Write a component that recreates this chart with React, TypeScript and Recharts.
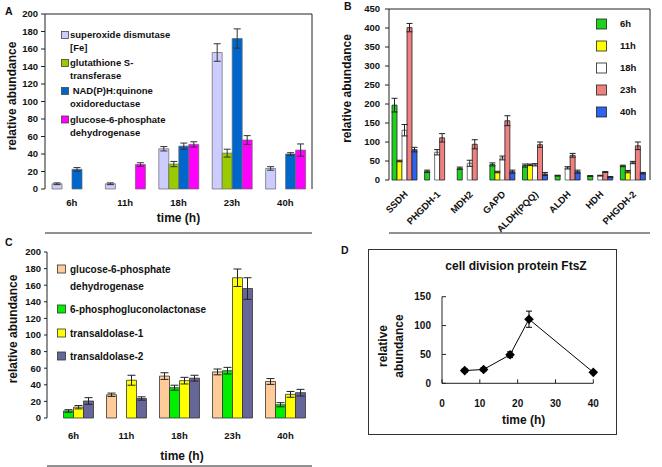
import React from 'react';
import { BarChart, Bar, LineChart, Line, XAxis, YAxis, ErrorBar, Legend } from 'recharts';

const FONT = '"Liberation Sans", Arial, Helvetica, sans-serif';
const TXT = '#111';
const AX = '#222';

// ---- panel A: antioxidant enzymes over time
const timesA = ['6h', '11h', '18h', '23h', '40h'];
const namesA = [
  'superoxide dismutase\n[Fe]',
  'glutathione S-\ntransferase',
  ' NAD(P)H:quinone\noxidoreductase',
  'glucose-6-phosphate\ndehydrogenase',
];
const sodA = [6, 6, 46, 156, 23.5];
const sodErrA = [1, 1, 2.5, 10, 2];
const gstA = [null, null, 28.5, 41, null];
const gstErrA = [null, null, 3, 4.5, null];
const nqoA = [22.5, null, 49, 172, 40];
const nqoErrA = [2, null, 3.5, 11, 1.5];
const g6pdA = [null, 28, 51, 56, 44.5];
const g6pdErrA = [null, 2, 3, 5, 7];
const colorsA = ['#ccccff', '#99cc00', '#0066cc', '#ff00ff'];

// ---- panel B: dehydrogenases per time point
const enzymesB = ['SSDH', 'PHGDH-1', 'MDH2', 'GAPD', 'ALDH(PQQ)', 'ALDH', 'HDH', 'PHGDH-2'];
const hoursB = ['6h', '11h', '18h', '23h', '40h'];
const b6h = [197, 23, 31, 41, 38, 11.5, 10.5, 37];
const b6hErr = [18, 3, 3, 4, 4, 1, 1, 2];
const b11h = [50, null, null, 21, 40, null, null, 22];
const b11hErr = [2, null, null, 2, 2, null, null, 3];
const b18h = [131, 73, 44, 58, 40, 32, 11.5, 46];
const b18hErr = [15, 7, 8, 5, 3, 3, 1, 3];
const b23h = [401, 111, 94, 156, 93, 65, 21, 90];
const b23hErr = [11, 11, 12, 13, 7, 5, 1, 10];
const b40h = [80, null, null, 22, 16, 22, 8, 18];
const b40hErr = [6, null, null, 4, 4, 4, 1, 2];
const colorsB = ['#1ed21e', '#ffff00', '#ffffff', '#f08080', '#2f62ee'];

// ---- panel C: pentose phosphate pathway
const timesC = ['6h', '11h', '18h', '23h', '40h'];
const namesC = [
  'glucose-6-phosphate\ndehydrogenase',
  '6-phosphogluconolactonase',
  'transaldolase-1',
  'transaldolase-2',
];
const g6pdC = [null, 28, 50.5, 55.5, 44];
const g6pdErrC = [null, 2, 4, 3.5, 3.5];
const pglC = [8.5, null, 36.5, 57, 16];
const pglErrC = [1.5, null, 3, 4, 2.5];
const tal1C = [13, 45.5, 45, 169, 28.5];
const tal1ErrC = [2, 6, 4, 10.5, 3.5];
const tal2C = [20.5, 23.5, 48, 156, 30.5];
const tal2ErrC = [4, 2, 3.5, 13, 4];
const colorsC = ['#ffcc99', '#00ee00', '#ffff00', '#666699'];

// ---- panel D: FtsZ
const hoursD = [6, 11, 18, 23, 40];
const ftsZ = [22, 24, 49.5, 111, 19];
const ftsZErr = [3, 3, 5, 14, 2];

const dataA = timesA.map((time, i) => ({
  time,
  s0: sodA[i], e0: sodErrA[i],
  s1: gstA[i], e1: gstErrA[i],
  s2: nqoA[i], e2: nqoErrA[i],
  s3: g6pdA[i], e3: g6pdErrA[i],
}));

const seriesB = [b6h, b11h, b18h, b23h, b40h];
const errB = [b6hErr, b11hErr, b18hErr, b23hErr, b40hErr];
const dataB = enzymesB.map((name, i) => {
  const row: any = { name };
  seriesB.forEach((s, k) => {
    row['s' + k] = s[i];
    row['e' + k] = errB[k][i];
  });
  return row;
});

const dataC = timesC.map((time, i) => ({
  time,
  s0: g6pdC[i], e0: g6pdErrC[i],
  s1: pglC[i], e1: pglErrC[i],
  s2: tal1C[i], e2: tal1ErrC[i],
  s3: tal2C[i], e3: tal2ErrC[i],
}));

const dataD = hoursD.map((t, i) => ({ t, v: ftsZ[i], e: ftsZErr[i] }));

const tickFont = { fontSize: 9.5, fontWeight: 700, fill: TXT };
const titleFont = { fontSize: 12, fontWeight: 700, fill: TXT };

const range = (n: number, step = 1) => Array.from({ length: n }, (_, i) => i * step);

const LegendA = () => {
  const rows = [35, 63, 91, 119.5];
  return (
    <svg width={130} height={140} style={{ overflow: 'visible', fontFamily: FONT }}>
      {namesA.map((n, i) => (
        <g key={n}>
          <rect x={0.5} y={rows[i] - 3.5} width={7} height={7} fill={colorsA[i]} stroke="#444" strokeWidth={0.8} />
          {n.split('\n').map((line, j) => (
            <text key={j} x={9} y={rows[i] + j * 13} dy="0.35em" fontSize={9.5} fontWeight={700} fill={TXT} style={{ whiteSpace: 'pre' }}>
              {line}
            </text>
          ))}
        </g>
      ))}
    </svg>
  );
};

const LegendB = () => {
  const rows = [24, 46, 68, 90, 112];
  return (
    <svg width={60} height={125} style={{ overflow: 'visible', fontFamily: FONT }}>
      {hoursB.map((h, i) => (
        <g key={h}>
          <rect x={0.5} y={rows[i] - 5} width={10} height={10} fill={colorsB[i]} stroke="#222" strokeWidth={0.8} />
          <text x={24} y={rows[i]} dy="0.35em" fontSize={9.5} fontWeight={700} fill={TXT}>{h}</text>
        </g>
      ))}
    </svg>
  );
};

const LegendC = () => {
  const rows = [35, 75, 99, 122];
  return (
    <svg width={170} height={130} style={{ overflow: 'visible', fontFamily: FONT }}>
      {namesC.map((n, i) => (
        <g key={n}>
          <rect x={0.5} y={rows[i] - 4} width={8} height={8} fill={colorsC[i]} stroke="#333" strokeWidth={0.8} />
          {n.split('\n').map((line, j) => (
            <text key={j} x={13} y={rows[i] + j * 17} dy="0.35em" fontSize={10} fontWeight={700} fill={TXT}>
              {line}
            </text>
          ))}
        </g>
      ))}
    </svg>
  );
};

const SlantTick = (props: any) => {
  const { x, y, payload } = props;
  const ax = x + 3;
  const ay = y + 15;
  return (
    <text x={ax} y={ay} transform={`rotate(-45 ${ax} ${ay})`} textAnchor="end" fontSize={9.5} fontWeight={700} fill={TXT}>
      {payload.value}
    </text>
  );
};

const Diamond = (props: any) => {
  const { cx, cy, index } = props;
  if (cx == null || cy == null) return <g key={index} />;
  const r = 4.8;
  return <polygon key={index} points={`${cx},${cy - r} ${cx + r},${cy} ${cx},${cy + r} ${cx - r},${cy}`} fill="#000" />;
};

const DYLabel = (p: any) => {
  const vb = p.viewBox;
  const cx = vb.x + 15;
  const cy = vb.y + vb.height / 2 + 6;
  return (
    <text x={cx} y={cy} transform={`rotate(-90 ${cx} ${cy})`} textAnchor="middle" fontSize={12} fontWeight={700} fill={TXT}>
      <tspan x={cx} dy="0.35em">relative</tspan>
      <tspan x={cx} dy={16}>abundance</tspan>
    </text>
  );
};

export default function App() {
  return (
    <div style={{ position: 'absolute', left: 0, top: 0, width: 662, height: 467, background: '#fff', fontFamily: FONT, overflow: 'hidden' }}>
      <svg width={662} height={467} style={{ position: 'absolute', left: 0, top: 0 }}>
        <g fontSize={10.5} fontWeight={700} fill={TXT}>
          <text x={5} y={15}>A</text>
          <text x={344} y={10}>B</text>
          <text x={5} y={246}>C</text>
          <text x={341} y={254}>D</text>
        </g>
        <rect x={368.5} y={249.5} width={248} height={185} fill="none" stroke="#333" strokeWidth={1} />
        <text x={516} y={269.5} textAnchor="middle" {...titleFont}>cell division protein FtsZ</text>
      </svg>

      {/* A */}
      <div style={{ position: 'absolute', left: 0, top: 0 }}>
        <BarChart width={331} height={234} data={dataA} margin={{ top: 13, right: 18, left: 0, bottom: 0 }} barCategoryGap={7} barGap={0}>
          <XAxis xAxisId="top" orientation="top" dataKey="time" height={1} tick={false} tickLine={false} stroke={AX} />
          <YAxis yAxisId="right" orientation="right" width={1} domain={[0, 200]} tick={false} tickLine={false} stroke={AX} />
          <XAxis xAxisId="edge" type="number" domain={[0, 5]} ticks={[1, 2, 3, 4]} allowDataOverflow height={1} tick={false} tickSize={-4} stroke={AX} />
          <XAxis xAxisId="cat" dataKey="time" height={44} axisLine={false} tickLine={false} tickSize={0} tickMargin={10} tick={tickFont}
            label={{ value: 'time (h)', position: 'center', dy: 7, ...titleFont }} />
          <YAxis yAxisId="left" width={45} domain={[0, 200]} ticks={range(11, 20)} tickSize={4} tickMargin={3} tick={tickFont} stroke={AX}
            label={{ value: 'relative abundance', angle: -90, position: 'center', dx: -10.5, dy: -5.5, ...titleFont }} />
          {colorsA.map((c, k) => (
            <Bar key={k} xAxisId="cat" yAxisId="left" dataKey={'s' + k} fill={c} stroke="#666" strokeWidth={0.7} isAnimationActive={false}>
              <ErrorBar dataKey={'e' + k} width={3.5} stroke="#333" strokeWidth={1} />
            </Bar>
          ))}
          <Legend layout="vertical" align="center" verticalAlign="middle" content={() => <LegendA />}
            wrapperStyle={{ left: 61, top: 0, width: 130, height: 140 }} />
        </BarChart>
      </div>

      {/* B */}
      <div style={{ position: 'absolute', left: 331, top: 0 }}>
        <BarChart width={331} height={250} data={dataB} margin={{ top: 8, right: 11, left: 0, bottom: 16 }} barCategoryGap={3} barGap={0}>
          <XAxis xAxisId="top" orientation="top" dataKey="name" height={1} tick={false} tickLine={false} stroke={AX} />
          <YAxis yAxisId="right" orientation="right" width={1} domain={[0, 450]} tick={false} tickLine={false} stroke={AX} />
          <XAxis xAxisId="edge" type="number" domain={[0, 8]} ticks={[1, 2, 3, 4, 5, 6, 7]} allowDataOverflow height={1} tick={false} tickSize={-4} stroke={AX} />
          <XAxis xAxisId="cat" dataKey="name" height={53} axisLine={false} tickLine={false} tickSize={0} tickMargin={0} interval={0} tick={<SlantTick />} />
          <YAxis yAxisId="left" width={58} domain={[0, 450]} ticks={range(10, 50)} tickSize={4} tickMargin={5} tick={tickFont} stroke={AX}
            label={{ value: 'relative abundance', angle: -90, position: 'center', dx: -13, dy: -6, ...titleFont }} />
          {colorsB.map((c, k) => (
            <Bar key={k} xAxisId="cat" yAxisId="left" dataKey={'s' + k} fill={c} stroke={k === 2 ? '#555' : '#222'} strokeWidth={0.8} isAnimationActive={false}>
              <ErrorBar dataKey={'e' + k} width={3} stroke="#222" strokeWidth={1} />
            </Bar>
          ))}
          <Legend layout="vertical" align="center" verticalAlign="middle" content={() => <LegendB />}
            wrapperStyle={{ left: 265, top: 0, width: 60, height: 125 }} />
        </BarChart>
      </div>

      {/* C */}
      <div style={{ position: 'absolute', left: 0, top: 234 }}>
        <BarChart width={331} height={233} data={dataC} margin={{ top: 18, right: 19, left: 0, bottom: 0 }} barCategoryGap={6.5} barGap={0}>
          <XAxis xAxisId="edge" type="number" domain={[0, 5]} ticks={[1, 2, 3, 4]} allowDataOverflow height={1} tick={false} tickSize={-4} stroke={AX} />
          <XAxis xAxisId="cat" dataKey="time" height={48} axisLine={false} tickLine={false} tickSize={0} tickMargin={14} tick={tickFont}
            label={{ value: 'time (h)', position: 'center', dx: 2.5, dy: 14, ...titleFont }} />
          <YAxis yAxisId="left" width={47} domain={[0, 200]} ticks={range(11, 20)} tickSize={3} tickMargin={3} tick={tickFont} stroke={AX}
            label={{ value: 'relative abundance', angle: -90, position: 'center', dx: -11, dy: -6, ...titleFont }} />
          {colorsC.map((c, k) => (
            <Bar key={k} xAxisId="cat" yAxisId="left" dataKey={'s' + k} fill={c} stroke="#333" strokeWidth={0.8} isAnimationActive={false}>
              <ErrorBar dataKey={'e' + k} width={4} stroke="#222" strokeWidth={1} />
            </Bar>
          ))}
          <Legend layout="vertical" align="center" verticalAlign="middle" content={() => <LegendC />}
            wrapperStyle={{ left: 57, top: 0, width: 170, height: 130 }} />
        </BarChart>
      </div>

      {/* D */}
      <div style={{ position: 'absolute', left: 368, top: 249 }}>
        <LineChart width={249} height={186} data={dataD} margin={{ top: 47.7, right: 23.7, left: 0, bottom: 0 }}>
          <XAxis dataKey="t" type="number" domain={[0, 40]} ticks={range(5, 10)} height={51.7} tickSize={-4} tickMargin={21}
            tick={{ ...tickFont, fontSize: 10 }} stroke={AX}
            label={{ value: 'time (h)', position: 'center', dx: 6, dy: 11, ...titleFont }} />
          <YAxis width={74} domain={[0, 150]} ticks={range(4, 50)} tickSize={-4} tickMargin={15}
            tick={{ ...tickFont, fontSize: 10 }} stroke={AX} label={{ content: DYLabel }} />
          <Line dataKey="v" stroke="#000" strokeWidth={1} dot={(p: any) => <Diamond key={p.index} {...p} />} isAnimationActive={false}>
            <ErrorBar dataKey="e" width={3} stroke="#000" strokeWidth={1} direction="y" />
          </Line>
        </LineChart>
      </div>
    </div>
  );
}
